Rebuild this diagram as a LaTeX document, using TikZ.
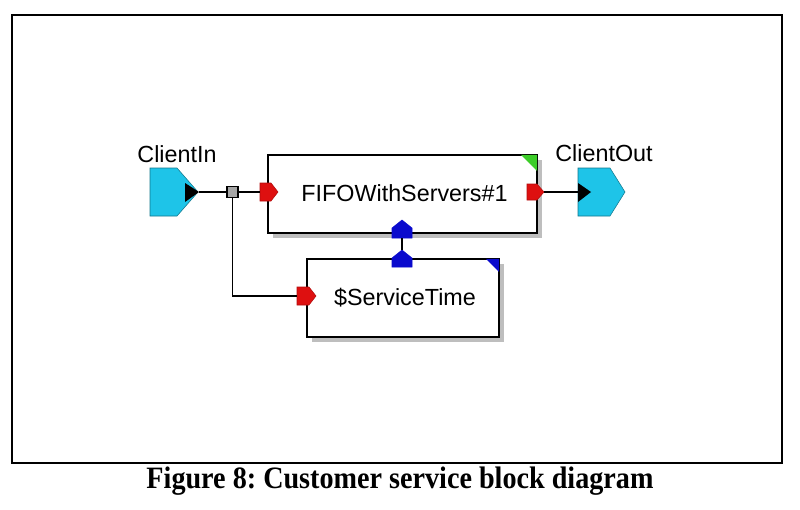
\documentclass[tikz,border=0pt]{standalone}
\usepackage{fontspec}
\setmainfont{Liberation Serif}
\newfontfamily\arialf{Liberation Sans}
\definecolor{portcyan}{RGB}{30,196,232}
\definecolor{portred}{RGB}{222,16,16}
\definecolor{portblue}{RGB}{10,10,205}
\definecolor{shadowgray}{RGB}{190,190,190}
\definecolor{cornergreen}{RGB}{60,205,40}
\tikzset{
  blk/.style={draw=black, line width=1.5pt, fill=white, inner sep=0pt, font=\arialf\fontsize{17.5}{20}\selectfont},
  lbl/.style={font=\arialf\fontsize{17.5}{20}\selectfont, inner sep=0pt},
  wire/.style={draw=black, line width=1.4pt},
  cyanport/.style={fill=portcyan, draw=portcyan!60!black, line width=0.4pt},
  redport/.style={fill=portred, draw=portred!80!black, line width=0.4pt},
  blueport/.style={fill=portblue, draw=portblue, line width=0.4pt},
}
\begin{document}
\frenchspacing
\begin{tikzpicture}[x=0.75pt, y=-0.75pt]
\useasboundingbox (0,0) rectangle (800,510);
% frame
\node[draw=black, line width=1.6pt, minimum width=577.5pt, minimum height=336pt, inner sep=0pt] (frame) at (397,239) {};
% caption
\node[inner sep=0pt] (caption) at (400,481) {\scalebox{0.96}[1.06]{\bfseries\fontsize{22}{24}\selectfont Figure 8: Customer service block diagram}};

% shadows
\fill[shadowgray] (273,160) rectangle (542,238);
\fill[shadowgray] (312,264) rectangle (504,342);
% blocks
\node[blk, minimum width=201.75pt, minimum height=58.5pt] (fifo) at (402.5,194) {};
\node[lbl] (fifotext) at (404.5,193) {FIFOWithServers\#1};
\node[blk, minimum width=144pt, minimum height=58.5pt] (svc) at (403,298) {};
\node[lbl] (svctext) at (405,298) {\$ServiceTime};
% corner marks
\fill[cornergreen] (fifo.north east) ++(-17,0.8) -- ++(16.2,0) -- ++(0,16.2) -- cycle;
\fill[portblue] (svc.north east) ++(-14,0.8) -- ++(13.2,0) -- ++(0,13.2) -- cycle;

% ClientIn
\fill[cyanport] (150,168) -- (177,168) -- (198,192) -- (177,216) -- (150,216) -- cycle;
\fill[black] (185,183) -- (199,192) -- (185,202) -- cycle;
\coordinate (inTip) at (199,192);
\node[lbl] (inlabel) at (177,154) {ClientIn};

% ClientOut
\fill[cyanport] (578,168) -- (610,168) -- (625,192) -- (610,216) -- (578,216) -- cycle;
\fill[black] (578,183) -- (591,192) -- (578,202) -- cycle;
\coordinate (outIn) at (578,192);
\node[lbl] (outlabel) at (604,153) {ClientOut};

% splitter
\node[draw=black, fill=gray!70, line width=0.8pt, minimum size=8.25pt, inner sep=0pt] (split) at (232.5,192) {};

% red ports
\fill[redport] (260,183) -- (271,183) -- (278,192) -- (271,201) -- (260,201) -- cycle;
\coordinate (fifoIn) at (260,192);
\fill[redport] (527,184) -- (537,184) -- (544,192) -- (537,200) -- (527,200) -- cycle;
\coordinate (fifoOut) at (544,192);
\fill[redport] (297,287) -- (309,287) -- (316,296) -- (309,305) -- (297,305) -- cycle;
\coordinate (svcIn) at (297,296);

% blue ports
\fill[blueport] (392,238) -- (392,228) -- (402,220) -- (412,228) -- (412,238) -- cycle;
\coordinate (fifoBot) at (402,238);
\fill[blueport] (392,267) -- (392,258) -- (402,250) -- (412,258) -- (412,267) -- cycle;
\coordinate (svcTop) at (402,250);

% wires
\draw[wire] (inTip) -- (split.west);
\draw[wire] (split.east) -- (fifoIn);
\draw[wire] (split.south) |- (svcIn);
\draw[wire] (fifoOut) -- (outIn);
\draw[wire] (fifoBot) -- (svcTop);
\end{tikzpicture}
\end{document}
